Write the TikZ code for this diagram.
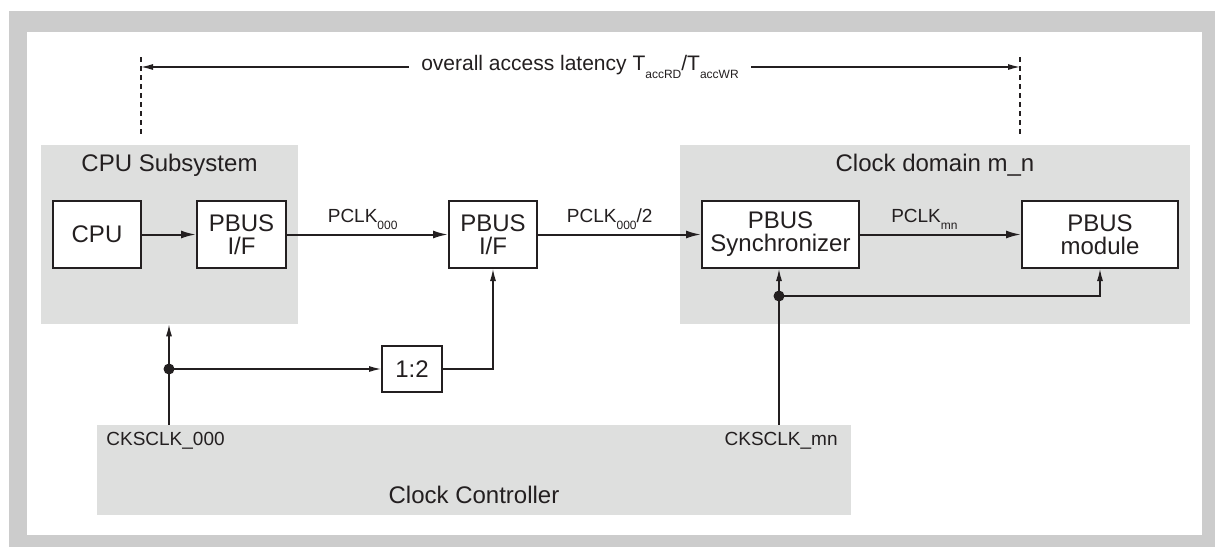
\documentclass[tikz,border=0pt]{standalone}
\usepackage{fontspec}
\setmainfont{Liberation Sans}
\usetikzlibrary{arrows.meta,calc}
\definecolor{framegray}{RGB}{204,204,204}
\definecolor{panelgray}{RGB}{222,223,222}
\definecolor{ink}{RGB}{35,31,32}
\newcommand{\lowsub}[1]{\raisebox{-0.65ex}{\fontsize{6}{6}\selectfont #1}}

\begin{document}
\begin{tikzpicture}[x=0.5pt, y=-0.5pt, color=ink,
  panel/.style={rectangle, fill=panelgray, draw=none, inner sep=0pt},
  blk/.style={rectangle, draw=ink, line width=1pt, fill=white, align=center, inner sep=0pt, minimum height=33.5pt, font=\fontsize{12}{11.5}\selectfont},
  ttl/.style={font=\fontsize{12}{14}\selectfont},
  lbl/.style={font=\fontsize{9.5}{11}\selectfont, inner sep=1pt},
  bus/.style={line width=1pt, -{Latex[length=7.5pt,width=4pt]}},
  clk/.style={line width=0.6pt, -{Latex[length=6pt,width=3pt]}},
  wire/.style={line width=0.6pt}]
\useasboundingbox (0,0) rectangle (1215,547);
\fill[framegray] (9,11) rectangle (1215,547);
\fill[white] (27,32) rectangle (1202,535);

\node[panel, minimum width=128.5pt, minimum height=89.5pt] (cpusub) at (169.5,234.5) {};
\node[panel, minimum width=255pt, minimum height=89.5pt] (dom) at (935,234.5) {};
\node[panel, minimum width=377pt, minimum height=45pt] (ctrl) at (474,470) {};
\node[ttl] (cpusubt) at (169.5,165) {CPU Subsystem};
\node[ttl] (domt) at (935,165) {Clock domain m\_n};
\node[ttl] (ctrlt) at (474,495) {Clock Controller};

\node[blk, minimum width=44pt] (cpu) at (97,234.5) {CPU};
\node[blk, minimum width=44.5pt] (pif1) at (241.5,234.5) {PBUS\\I/F};
\node[blk, minimum width=44pt] (pif2) at (493,234.5) {PBUS\\I/F};
\node[blk, minimum width=78.5pt] (sync) at (780.5,234.5) {PBUS\\Synchronizer};
\node[blk, minimum width=78pt] (mod) at (1100,234.5) {PBUS\\module};
\node[blk, minimum width=30pt, minimum height=23pt, font=\fontsize{12}{14}\selectfont] (div) at (412,369) {1:2};

\node[lbl, anchor=west] (cka) at (104,441) {CKSCLK\_000};
\node[lbl, anchor=east] (ckb) at (840,441) {CKSCLK\_mn};

\draw[bus] (cpu) -- (pif1);
\draw[bus] (pif1) -- (pif2) node[lbl, pos=0.47, above=1pt] {PCLK\lowsub{000}};
\draw[bus] (pif2) -- (sync) node[lbl, pos=0.44, above=1pt] {PCLK\lowsub{000}/2};
\draw[bus] (sync) -- (mod) node[lbl, pos=0.40, above=1pt] {PCLK\lowsub{mn}};

\coordinate (ja) at (169,369);
\coordinate (jb) at (779,296);
\draw[wire] (ctrl.north -| ja) -- (ja);
\draw[clk] (ja) -- (ja |- cpusub.south);
\draw[clk] (ja) -- (div);
\draw[clk] (div) -| (pif2);
\fill (ja) circle[radius=2.75pt];
\draw[wire] (ctrl.north -| jb) -- (jb);
\draw[clk] (jb) -- (jb |- sync.south);
\draw[clk] (jb) -| (mod);
\fill (jb) circle[radius=2.75pt];

\coordinate (dlt) at (141,57);
\coordinate (dlb) at (141,135);
\coordinate (drt) at (1020,57);
\coordinate (drb) at (1020,135);
\coordinate (dl) at (141,67);
\coordinate (dr) at (1020,67);
\draw[wire, dash pattern=on 2.5pt off 2pt] (dlt) -- (dlb);
\draw[wire, dash pattern=on 2.5pt off 2pt] (drt) -- (drb);
\node[font=\fontsize{10.5}{13}\selectfont, inner xsep=6pt] (lat) at (580,67) {overall access latency T\lowsub{accRD}/T\lowsub{accWR}};
\draw[clk] (lat) -- (dl);
\draw[clk] (lat) -- (dr);
\end{tikzpicture}
\end{document}
